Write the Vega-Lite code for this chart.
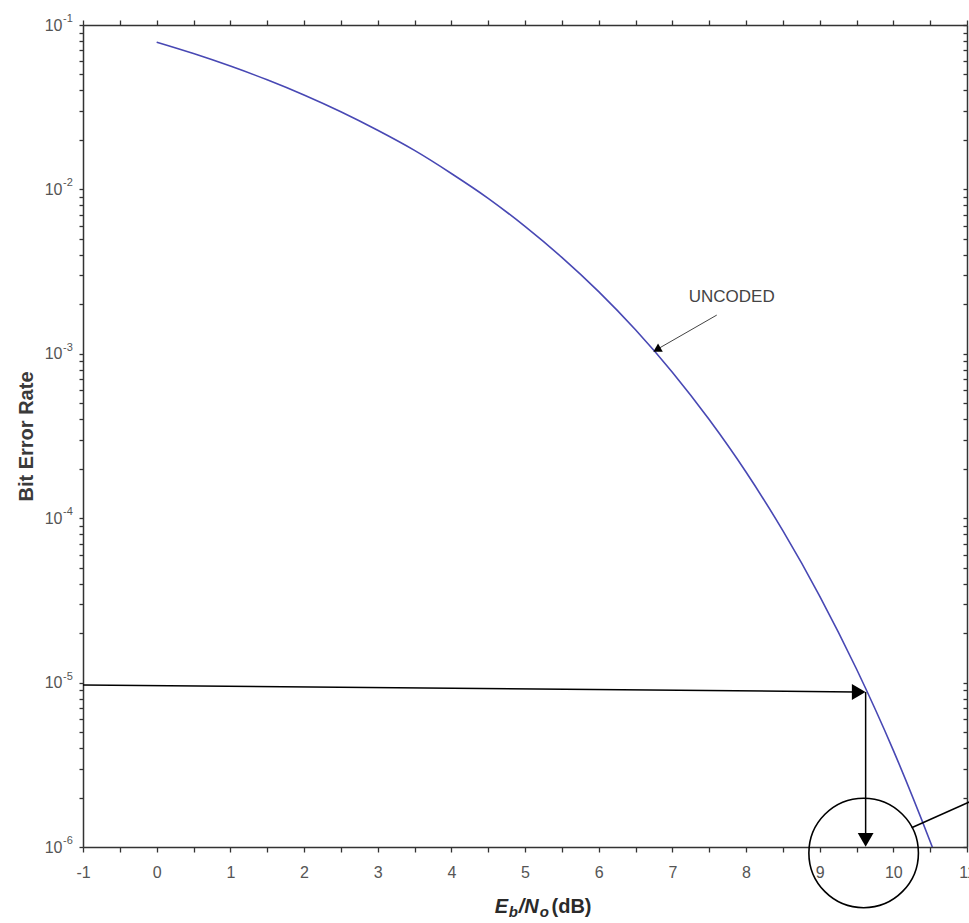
{
  "$schema": "https://vega.github.io/schema/vega-lite/v6.json",
  "width": 884,
  "height": 822,
  "autosize": {"type": "none"},
  "padding": {"left": 83, "top": 25, "right": 2, "bottom": 76},
  "background": "white",
  "config": {
    "view": {"stroke": null},
    "font": "Liberation Sans",
    "axis": {
      "domainColor": "#333333",
      "domainWidth": 1.5,
      "tickColor": "#333333",
      "tickWidth": 1.3,
      "labelColor": "#555555",
      "labelFont": "Liberation Sans",
      "labelFontSize": 16,
      "grid": false
    }
  },
  "datasets": {
    "ber": [
      {"snr": 0, "ber": 0.07865},
      {"snr": 0.5, "ber": 0.06707},
      {"snr": 1, "ber": 0.05628},
      {"snr": 1.5, "ber": 0.0464},
      {"snr": 2, "ber": 0.03751},
      {"snr": 2.5, "ber": 0.02965},
      {"snr": 3, "ber": 0.02288},
      {"snr": 3.5, "ber": 0.01726},
      {"snr": 4, "ber": 0.0125},
      {"snr": 4.5, "ber": 0.008825},
      {"snr": 5, "ber": 0.005954},
      {"snr": 5.5, "ber": 0.00386},
      {"snr": 6, "ber": 0.002388},
      {"snr": 6.5, "ber": 0.0014},
      {"snr": 7, "ber": 0.0007727},
      {"snr": 7.5, "ber": 0.000398},
      {"snr": 8, "ber": 0.0001909},
      {"snr": 8.5, "ber": 0.000084},
      {"snr": 9, "ber": 0.00003363},
      {"snr": 9.5, "ber": 0.0000121},
      {"snr": 10, "ber": 0.000003872},
      {"snr": 10.5, "ber": 0.00000108},
      {"snr": 10.6, "ber": 0.000000825}
    ],
    "exponents": [
      {"x": -1, "y": 0.1, "e": "-1"},
      {"x": -1, "y": 0.01, "e": "-2"},
      {"x": -1, "y": 0.001, "e": "-3"},
      {"x": -1, "y": 0.0001, "e": "-4"},
      {"x": -1, "y": 0.00001, "e": "-5"},
      {"x": -1, "y": 0.000001, "e": "-6"}
    ]
  },
  "resolve": {"axis": {"x": "independent", "y": "independent"}},
  "layer": [
    {
      "data": {"name": "ber"},
      "mark": {"type": "line", "color": "#4848b4", "strokeWidth": 1.6, "clip": true, "interpolate": "monotone"},
      "encoding": {
        "x": {
          "field": "snr", "type": "quantitative",
          "scale": {"domain": [-1, 11], "nice": false, "zero": false},
          "axis": {
            "orient": "bottom", "title": null,
            "values": [-1, -0.5, 0, 0.5, 1, 1.5, 2, 2.5, 3, 3.5, 4, 4.5, 5, 5.5, 6, 6.5, 7, 7.5, 8, 8.5, 9, 9.5, 10, 10.5, 11],
            "labelExpr": "datum.value % 1 == 0 ? '' + datum.value : ''",
            "tickSize": 5, "labelPadding": 12, "labelFlush": false, "labelOverlap": false
          }
        },
        "y": {
          "field": "ber", "type": "quantitative",
          "scale": {"type": "log", "domain": [0.000001, 0.1], "nice": false},
          "axis": {
            "orient": "left",
            "title": "Bit Error Rate",
            "titleFontWeight": "bold",
            "titleFontSize": 20,
            "titleColor": "#3a3a3a",
            "titlePadding": 8,
            "values": [0.000001, 0.000002, 0.000003, 0.000004, 0.000005, 0.000006, 0.000007, 0.000008, 0.000009,
                       0.00001, 0.00002, 0.00003, 0.00004, 0.00005, 0.00006, 0.00007, 0.00008, 0.00009,
                       0.0001, 0.0002, 0.0003, 0.0004, 0.0005, 0.0006, 0.0007, 0.0008, 0.0009,
                       0.001, 0.002, 0.003, 0.004, 0.005, 0.006, 0.007, 0.008, 0.009,
                       0.01, 0.02, 0.03, 0.04, 0.05, 0.06, 0.07, 0.08, 0.09, 0.1],
            "labelExpr": "abs(log(datum.value)/LN10 - round(log(datum.value)/LN10)) < 0.001 ? '10' : ''",
            "tickSize": 4, "labelPadding": 17, "labelFlush": false, "labelOverlap": false
          }
        }
      }
    },
    {
      "data": {"name": "ber"},
      "mark": {"type": "point", "opacity": 0},
      "encoding": {
        "x": {
          "field": "snr", "type": "quantitative",
          "axis": {
            "orient": "top", "title": null, "labels": false,
            "values": [-1, -0.5, 0, 0.5, 1, 1.5, 2, 2.5, 3, 3.5, 4, 4.5, 5, 5.5, 6, 6.5, 7, 7.5, 8, 8.5, 9, 9.5, 10, 10.5, 11],
            "tickSize": 5
          }
        },
        "y": {
          "field": "ber", "type": "quantitative",
          "axis": {
            "orient": "right", "title": null, "labels": false,
            "values": [0.000001, 0.000002, 0.000003, 0.000004, 0.000005, 0.000006, 0.000007, 0.000008, 0.000009,
                       0.00001, 0.00002, 0.00003, 0.00004, 0.00005, 0.00006, 0.00007, 0.00008, 0.00009,
                       0.0001, 0.0002, 0.0003, 0.0004, 0.0005, 0.0006, 0.0007, 0.0008, 0.0009,
                       0.001, 0.002, 0.003, 0.004, 0.005, 0.006, 0.007, 0.008, 0.009,
                       0.01, 0.02, 0.03, 0.04, 0.05, 0.06, 0.07, 0.08, 0.09, 0.1],
            "tickSize": -4
          }
        }
      }
    },
    {
      "data": {"name": "exponents"},
      "mark": {"type": "text", "fontSize": 11, "color": "#555555", "align": "left", "baseline": "middle", "dx": -20, "dy": -6},
      "encoding": {
        "x": {"field": "x", "type": "quantitative", "axis": null},
        "y": {"field": "y", "type": "quantitative", "axis": null},
        "text": {"field": "e"}
      }
    },
    {
      "data": {"values": [{"x": -1, "y": 0.00000967}, {"x": 9.475, "y": 0.00000878}]},
      "mark": {"type": "line", "color": "black", "strokeWidth": 1.5},
      "encoding": {
        "x": {"field": "x", "type": "quantitative", "axis": null},
        "y": {"field": "y", "type": "quantitative", "axis": null}
      }
    },
    {
      "data": {"values": [{"x": 9.624, "y": 0.00000877}, {"x": 9.624, "y": 0.00000112}]},
      "mark": {"type": "line", "color": "black", "strokeWidth": 1.5},
      "encoding": {
        "x": {"field": "x", "type": "quantitative", "axis": null},
        "y": {"field": "y", "type": "quantitative", "axis": null}
      }
    },
    {
      "data": {"values": [{"x": 9.53, "y": 0.00000877}]},
      "mark": {"type": "point", "shape": "triangle-right", "filled": true, "color": "black", "opacity": 1, "size": 250},
      "encoding": {
        "x": {"field": "x", "type": "quantitative", "axis": null},
        "y": {"field": "y", "type": "quantitative", "axis": null}
      }
    },
    {
      "data": {"values": [{"x": 9.624, "y": 0.000001104}]},
      "mark": {"type": "point", "shape": "triangle-down", "filled": true, "color": "black", "opacity": 1, "size": 250},
      "encoding": {
        "x": {"field": "x", "type": "quantitative", "axis": null},
        "y": {"field": "y", "type": "quantitative", "axis": null}
      }
    },
    {
      "data": {"values": [{"x": 9.597, "y": 0.00000092}]},
      "mark": {"type": "point", "shape": "circle", "filled": false, "color": "black", "opacity": 1, "strokeWidth": 1.6, "size": 12000},
      "encoding": {
        "x": {"field": "x", "type": "quantitative", "axis": null},
        "y": {"field": "y", "type": "quantitative", "axis": null}
      }
    },
    {
      "data": {"values": [{"x": 10.248, "y": 0.00000131}, {"x": 11.307, "y": 0.00000213}]},
      "mark": {"type": "line", "color": "black", "strokeWidth": 1.5},
      "encoding": {
        "x": {"field": "x", "type": "quantitative", "axis": null},
        "y": {"field": "y", "type": "quantitative", "axis": null}
      }
    },
    {
      "data": {"values": [{"x": 7.603, "y": 0.00172}, {"x": 6.802, "y": 0.00107}]},
      "mark": {"type": "line", "color": "#444444", "strokeWidth": 1},
      "encoding": {
        "x": {"field": "x", "type": "quantitative", "axis": null},
        "y": {"field": "y", "type": "quantitative", "axis": null}
      }
    },
    {
      "data": {"values": [{"x": 6.79, "y": 0.00106}]},
      "mark": {"type": "point", "shape": "triangle-up", "filled": true, "color": "black", "opacity": 1, "size": 90, "angle": 240},
      "encoding": {
        "x": {"field": "x", "type": "quantitative", "axis": null},
        "y": {"field": "y", "type": "quantitative", "axis": null}
      }
    },
    {
      "data": {"values": [{"x": 7.806, "y": 0.00222, "t": "UNCODED"}]},
      "mark": {"type": "text", "fontSize": 17, "color": "#444444", "align": "center", "baseline": "middle"},
      "encoding": {
        "x": {"field": "x", "type": "quantitative", "axis": null},
        "y": {"field": "y", "type": "quantitative", "axis": null},
        "text": {"field": "t"}
      }
    },
    {
      "data": {"values": [{"x": 4.59, "y": 0.000000397, "t": "E"}, {"x": 4.916, "y": 0.000000397, "t": "/N"}]},
      "mark": {"type": "text", "fontSize": 20, "fontWeight": "bold", "fontStyle": "italic", "color": "#2a2a2a", "align": "left", "baseline": "alphabetic"},
      "encoding": {
        "x": {"field": "x", "type": "quantitative", "axis": null},
        "y": {"field": "y", "type": "quantitative", "axis": null},
        "text": {"field": "t"}
      }
    },
    {
      "data": {"values": [{"x": 4.78, "y": 0.000000397, "t": "b"}, {"x": 5.2, "y": 0.000000397, "t": "o"}]},
      "mark": {"type": "text", "fontSize": 15, "fontWeight": "bold", "fontStyle": "italic", "color": "#2a2a2a", "align": "left", "baseline": "alphabetic", "dy": 4},
      "encoding": {
        "x": {"field": "x", "type": "quantitative", "axis": null},
        "y": {"field": "y", "type": "quantitative", "axis": null},
        "text": {"field": "t"}
      }
    },
    {
      "data": {"values": [{"x": 5.36, "y": 0.000000397, "t": "(dB)"}]},
      "mark": {"type": "text", "fontSize": 20, "fontWeight": "bold", "color": "#2a2a2a", "align": "left", "baseline": "alphabetic"},
      "encoding": {
        "x": {"field": "x", "type": "quantitative", "axis": null},
        "y": {"field": "y", "type": "quantitative", "axis": null},
        "text": {"field": "t"}
      }
    }
  ]
}
